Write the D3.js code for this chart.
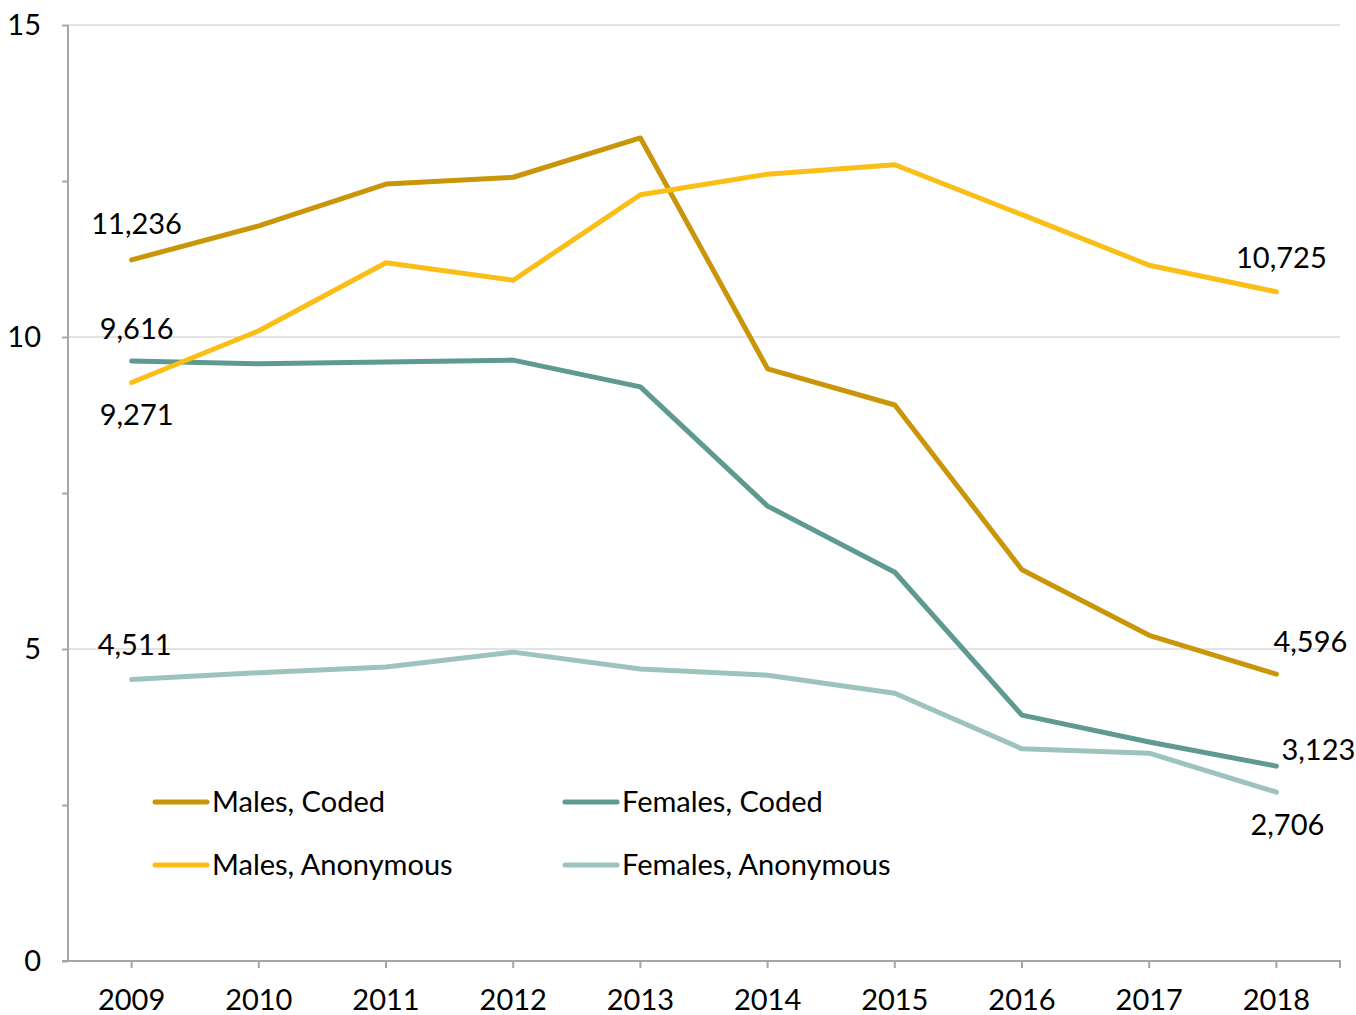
<!DOCTYPE html>
<html>
<head>
<meta charset="utf-8">
<script src="https://cdn.jsdelivr.net/npm/d3@7"></script>
<style>
  body { margin: 0; background: #fff; }
  text { font-family: Lato, "Open Sans", sans-serif; fill: #000; }
</style>
</head>
<body>
<script>
// values in thousands
var years = ["2009", "2010", "2011", "2012", "2013", "2014", "2015", "2016", "2017", "2018"];
var malesCoded = [11.236, 11.78, 12.45, 12.56, 13.19, 9.49, 8.91, 6.27, 5.22, 4.596];
var malesAnon = [9.271, 10.10, 11.19, 10.91, 12.28, 12.61, 12.76, 11.96, 11.15, 10.725];
var femalesCoded = [9.616, 9.57, 9.60, 9.63, 9.20, 7.29, 6.23, 3.94, 3.51, 3.123];
var femalesAnon = [4.511, 4.62, 4.71, 4.95, 4.68, 4.58, 4.29, 3.40, 3.33, 2.706];
var yTicks = [0, 5, 10, 15];

var series = [
  {name: "Males, Coded", values: malesCoded, color: "#C9960A", labels: [[0, 5, -26], [9, 34, -22]]},
  {name: "Females, Coded", values: femalesCoded, color: "#5E9A91", labels: [[0, 5, -22], [9, 42, -6]]},
  {name: "Males, Anonymous", values: malesAnon, color: "#FBBE17", labels: [[0, 5, 43], [9, 5, -24]]},
  {name: "Females, Anonymous", values: femalesAnon, color: "#9CC3BE", labels: [[0, 3, -25], [9, 11, 43]]}
];

var margin = {top: 25, right: 16, bottom: 54, left: 68},
    width = 1356 - margin.left - margin.right,
    height = 1015 - margin.top - margin.bottom;

var svg = d3.select("body").append("svg")
    .attr("width", 1356)
    .attr("height", 1015)
  .append("g")
    .attr("transform", "translate(" + margin.left + "," + margin.top + ")");

var x = d3.scaleBand().domain(years).range([0, width]);
var y = d3.scaleLinear().domain([0, 15]).range([height, 0]);
var cx = function(i) { return x(years[i]) + x.bandwidth() / 2; };

// gridlines
svg.selectAll(".grid")
    .data([5, 10, 15])
  .enter().append("line")
    .attr("x1", 0).attr("x2", width)
    .attr("y1", function(d) { return y(d); })
    .attr("y2", function(d) { return y(d); })
    .attr("stroke", "#e3e3e3")
    .attr("stroke-width", 2);

// y axis
var yAxis = svg.append("g")
    .call(d3.axisLeft(y).tickValues([0, 2.5, 5, 7.5, 10, 12.5, 15]).tickSize(6).tickFormat(""));
yAxis.selectAll("line, path").attr("stroke", "#a6a6a6").attr("stroke-width", 2);
yAxis.select(".domain").attr("d", "M0," + y(15) + "V" + height);

svg.selectAll(".ylab")
    .data(yTicks)
  .enter().append("text")
    .attr("x", -27)
    .attr("y", function(d) { return y(d); })
    .attr("dy", "0.35em")
    .attr("text-anchor", "end")
    .style("font-size", "29px")
    .text(function(d) { return d; });

// x axis
var xAxis = svg.append("g")
    .attr("transform", "translate(0," + height + ")")
    .call(d3.axisBottom(x).tickSize(7).tickSizeOuter(0));
xAxis.selectAll("line, path").attr("stroke", "#a6a6a6").attr("stroke-width", 2);
xAxis.select(".domain").attr("d", "M-6,0H" + width + "V7");
xAxis.selectAll("text")
    .attr("y", 28)
    .style("font-size", "29px")
    .style("font-family", "Lato, 'Open Sans', sans-serif")
    .attr("fill", "#000");

// lines
var line = d3.line()
    .x(function(d, i) { return cx(i); })
    .y(function(d) { return y(d); });

series.forEach(function(s) {
  svg.append("path")
      .datum(s.values)
      .attr("fill", "none")
      .attr("stroke", s.color)
      .attr("stroke-width", 5)
      .attr("stroke-linecap", "round")
      .attr("stroke-linejoin", "round")
      .attr("d", line);
});

// end labels
var fmt = d3.format(",");
series.forEach(function(s) {
  s.labels.forEach(function(l) {
    var i = l[0];
    svg.append("text")
        .attr("x", cx(i) + l[1])
        .attr("y", y(s.values[i]) + l[2])
        .attr("text-anchor", "middle")
        .style("font-size", "29px")
        .text(fmt(Math.round(s.values[i] * 1000)));
  });
});

// legend
var legend = svg.append("g");
var legendPos = [[85, 777], [85, 840], [495, 777], [495, 840]];
[series[0], series[2], series[1], series[3]].forEach(function(s, k) {
  var g = legend.append("g")
      .attr("transform", "translate(" + legendPos[k][0] + "," + legendPos[k][1] + ")");
  g.append("line")
      .attr("x1", 2).attr("x2", 54)
      .attr("stroke", s.color)
      .attr("stroke-width", 5)
      .attr("stroke-linecap", "round");
  g.append("text")
      .attr("x", 59)
      .attr("dy", "0.35em")
      .style("font-size", "29px")
      .text(s.name);
});
</script>
</body>
</html>
